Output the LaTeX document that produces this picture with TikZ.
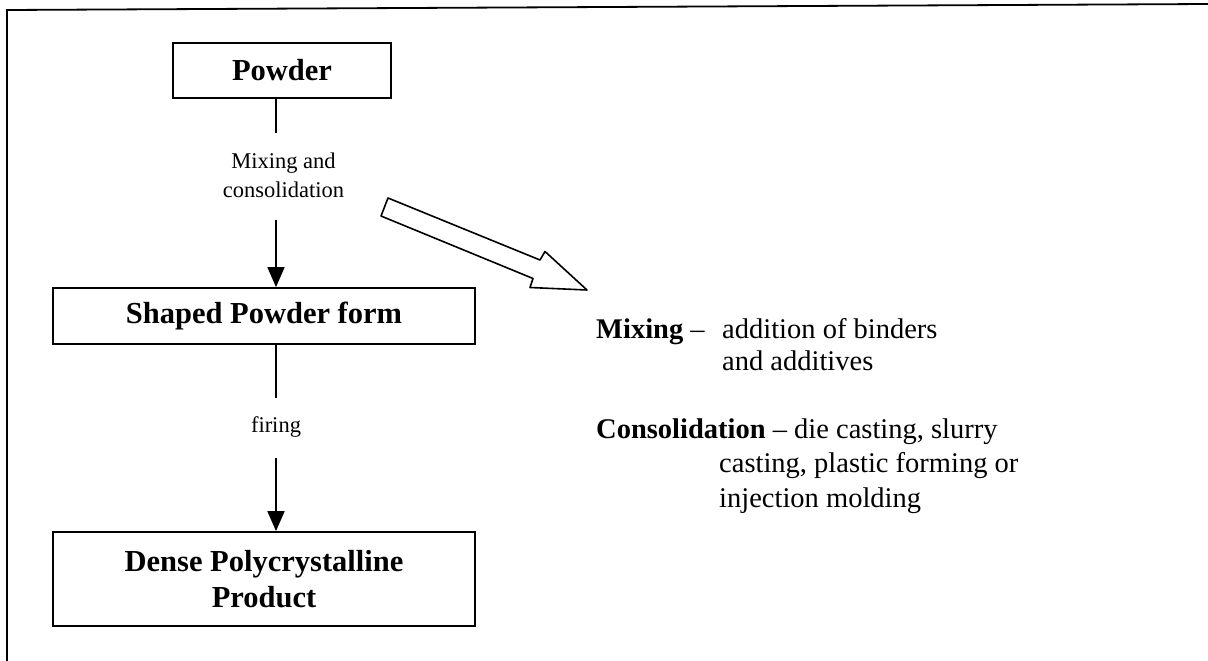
\documentclass[tikz,border=0pt]{standalone}
\usepackage{fontspec}
\setmainfont{Liberation Serif}
\usetikzlibrary{arrows.meta}
\begin{document}
\begin{tikzpicture}[x=1pt,y=-1pt,
  stage/.style={draw, line width=1.8pt, inner sep=0pt, align=center,
    font=\fontsize{30.5}{36}\selectfont\bfseries},
  flowline/.style={line width=1.8pt},
  flowarrow/.style={flowline, -{Triangle[length=20pt,width=17pt]}},
  steplabel/.style={inner sep=0pt, align=center, font=\fontsize{22.5}{29}\selectfont},
  note/.style={inner sep=0pt, anchor=base west, font=\fontsize{28.5}{34}\selectfont},
  hollowarrow/.style={draw, line width=1.6pt, line join=round},
]
\useasboundingbox (0,0) rectangle (1208,661);

% outer frame (left and top edges)
\draw[line width=1.8pt] (7,661) -- (7,10) -- (1208,4);

% process stages
\node[stage, minimum width=218pt, minimum height=55pt] (powder) at (282,70.5) {Powder};
\node[stage, minimum width=422pt, minimum height=56pt] (shaped) at (264,316) {Shaped Powder form};
\node[stage, minimum width=422pt, minimum height=94pt] (dense) at (264,579) {Dense Polycrystalline\\Product};

% step labels
\node[steplabel] (mixcons) at (283.5,175) {Mixing and\\consolidation};
\node[steplabel, anchor=base] (firing) at (276,432) {firing};

% connectors, interrupted by the step labels
\coordinate (axis) at (276,0);
\coordinate (gapAtop) at (276,133);
\coordinate (gapAbot) at (276,220);
\coordinate (gapBtop) at (276,398);
\coordinate (gapBbot) at (276,458);
\draw[flowline] (powder.south -| axis) -- (gapAtop);
\draw[flowarrow] (gapAbot) -- (shaped.north -| axis);
\draw[flowline] (shaped.south -| axis) -- (gapBtop);
\draw[flowarrow] (gapBbot) -- (dense.north -| axis);

% outlined block arrow towards the explanations
\draw[hollowarrow] (388,198) -- (540,260) -- (545,251.5) -- (587,290)
  -- (530,287.5) -- (533,278.5) -- (381,216) -- cycle;

% explanations
\node[note] (mixhead) at (596,338) {\bfseries Mixing \normalfont--};
\node[note] (mixtexta) at (722,338) {addition of binders};
\node[note] (mixtextb) at (722,370) {and additives};
\node[note] (conshead) at (596,438) {\bfseries Consolidation \normalfont-- die casting, slurry};
\node[note] (constexta) at (719,472) {casting, plastic forming or};
\node[note] (constextb) at (719,507) {injection molding};
\end{tikzpicture}
\end{document}
